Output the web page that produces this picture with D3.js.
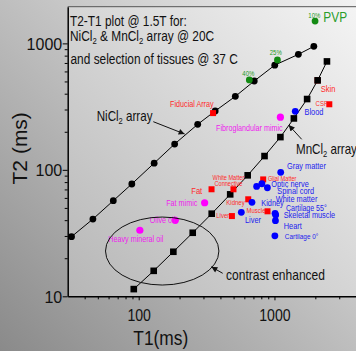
<!DOCTYPE html>
<html>
<head>
<meta charset="utf-8">
<script src="https://cdn.jsdelivr.net/npm/d3@7"></script>
<style>
  html, body { margin: 0; padding: 0; overflow: hidden; }
  svg { display: block; font-family: Arial, "Liberation Sans", sans-serif; }
</style>
</head>
<body>
<div id="chart"></div>
<script>
// NiCl2 array @ 20C (black circles)
const niT1 = [32, 46, 65, 89, 130, 184, 272, 366, 515, 710, 1005, 1500, 1950];
const niT2 = [29.6, 40.8, 57, 77.3, 113, 160, 229, 292, 381, 504, 673, 819, 947];
// MnCl2 array @ 20C (black squares)
const mnT1 = [92, 129, 180, 250, 345, 472, 635, 845, 1106, 1390, 1740, 2080, 2436];
const mnT2 = [11.4, 15.9, 22.5, 31.8, 45, 64, 90.5, 128.5, 181.5, 255, 363, 510, 720];
// PVP (green)
const pvpNames = ['40%', '25%', '10%'];
const pvpT1 = [653, 1052, 1991];
const pvpT2 = [514, 740, 1500];
// red squares
const redNames = ['Fiducial Array', 'CSF', 'Skin', 'Fat', 'White Matter|Connective', 'Glial Matter', 'Kidney', 'Liver', 'Muscle'];
const redT1 = [353, 2535, 2080, 344, 499, 826, 641, 486, 889];
const redT2 = [281, 330, 510, 70.2, 70.2, 84, 58.5, 43.1, 47];
// blue circles (tissues @ 37 C)
const blueNames = ['Blood', 'Gray matter', 'Optic nerve', 'Spinal cord', 'White matter', 'Kidney', 'Liver', 'Cartilage 55°', 'Skeletal muscle', 'Heart', 'Cartilage 0°'];
const blueT1 = [1423, 1112, 808, 739, 887, 683, 570, 1010, 1021, 1017, 1007];
const blueT2 = [290, 95.5, 77.6, 74, 72.2, 55.4, 46.1, 45.3, 44, 39.6, 30.1];
// magenta circles (mimics / oils)
const magNames = ['Fibroglandular mimic', 'Fat mimic', 'Olive oil', 'Heavy mineral oil'];
const magT1 = [1106, 306, 186, 102];
const magT2 = [261, 54.9, 39.9, 33.3];

const xTicks = [100, 1000];
const yTicks = [10, 100, 1000];

// label placement relative to each marker (px)
const redLayout = {
  'Fiducial Array': { dx: 0.5, dy: -6.5, a: 'end', fs: 9 },
  'CSF': { dx: -1.7, dy: 1.5, a: 'end', fs: 7.5 },
  'Skin': { dx: 3, dy: 11.3, a: 'start', fs: 9.5 },
  'Fat': { dx: -9.3, dy: 4.3, a: 'end', fs: 9.5 },
  'White Matter|Connective': { dx: -5, dy: -9.6, a: 'middle', fs: 7 },
  'Glial Matter': { dx: 4.7, dy: 1.4, a: 'start', fs: 7 },
  'Kidney': { dx: -3.6, dy: 6.1, a: 'end', fs: 7.5 },
  'Liver': { dx: -2.7, dy: 1.7, a: 'end', fs: 7.5 },
  'Muscle': { dx: -2, dy: 2.1, a: 'end', fs: 7.5 }
};
const blueLayout = {
  'Blood': { dx: 9.3, dy: 4 },
  'Gray matter': { dx: 6.3, dy: -3.3 },
  'Optic nerve': { dx: 9.3, dy: 3.4 },
  'Spinal cord': { dx: 20.6, dy: 7.3 },
  'White matter': { dx: 8.3, dy: 13.8 },
  'Kidney': { dx: 9.3, dy: 3.7 },
  'Liver': { dx: 3.7, dy: 10.7 },
  'Cartilage 55°': { dx: 11, dy: -2.8, fs: 8.8 },
  'Skeletal muscle': { dx: 8, dy: 3.5 },
  'Heart': { dx: 8.3, dy: 7.8 },
  'Cartilage 0°': { dx: 10, dy: 3.5, fs: 8 }
};
const magLayout = {
  'Fibroglandular mimic': { dx: 2.3, dy: 13.5, a: 'end' },
  'Fat mimic': { dx: -7.3, dy: 3.2, a: 'end' },
  'Olive oil': { dx: 0, dy: 2.9, a: 'end' },
  'Heavy mineral oil': { dx: -4, dy: 12, a: 'middle' }
};
const pvpLayout = { '40%': { dx: -1, dy: -4 }, '25%': { dx: -1.7, dy: -5 }, '10%': { dx: -0.7, dy: -3.3 } };

const W = 356, H = 351;
const L = 67.7, T = 6.7, B = 296.3, R = 356.2;

const svg = d3.select('#chart').append('svg').attr('width', W).attr('height', H);
const defs = svg.append('defs');
const bg = defs.append('linearGradient').attr('id', 'bg')
  .attr('x1', 1).attr('y1', 0).attr('x2', 0).attr('y2', 1);
bg.append('stop').attr('offset', 0).attr('stop-color', '#f2f2f2');
bg.append('stop').attr('offset', 1).attr('stop-color', '#8a8a8a');
const pg = defs.append('linearGradient').attr('id', 'pg')
  .attr('x1', 1).attr('y1', 0).attr('x2', 0).attr('y2', 1);
pg.append('stop').attr('offset', 0).attr('stop-color', '#f4f4f4');
pg.append('stop').attr('offset', 1).attr('stop-color', '#b6b6b6');
defs.append('marker').attr('id', 'arr')
  .attr('viewBox', '0 0 10 10').attr('refX', 10).attr('refY', 5)
  .attr('markerWidth', 7).attr('markerHeight', 6).attr('markerUnits', 'userSpaceOnUse')
  .attr('orient', 'auto')
  .append('path').attr('d', 'M0,0L10,5L0,10z').attr('fill', '#111');

svg.append('rect').attr('width', W).attr('height', H).attr('fill', 'url(#bg)');
svg.append('rect').attr('x', L).attr('y', T).attr('width', R - L).attr('height', B - T).attr('fill', 'url(#pg)');

const x = d3.scaleLog().domain([30, 4000]).range([L, R]);
const y = d3.scaleLog().domain([10, 1950]).range([B, T]);

// text helper, "_2" becomes a subscript
function label(g, px, py, s, o) {
  const t = g.append('text')
    .attr('transform', `translate(${px},${py}) scale(${o.sx || 0.8},1)`)
    .attr('text-anchor', o.a || 'start')
    .attr('font-size', o.fs)
    .attr('fill', o.fill || '#111');
  s.split(/_(\d)/).forEach((p, i) => {
    const sp = t.append('tspan').text(p);
    if (i % 2 === 1) sp.attr('font-size', o.fs * 0.65).attr('baseline-shift', '-30%');
  });
  return t;
}

// axes
const minorX = [40, 50, 60, 70, 80, 90, 200, 300, 400, 500, 600, 700, 800, 900, 2000, 3000];
const minorY = [20, 30, 40, 50, 60, 70, 80, 90, 200, 300, 400, 500, 600, 700, 800, 900];

svg.append('line').attr('x1', L).attr('x2', R).attr('y1', T).attr('y2', T)
  .attr('stroke', '#555').attr('stroke-width', 1);

const gx = svg.append('g').attr('transform', `translate(0,${B})`)
  .call(d3.axisBottom(x).tickValues(xTicks).tickFormat(d3.format('d')).tickSize(4).tickSizeOuter(0));
svg.append('g').attr('transform', `translate(0,${B})`)
  .call(d3.axisBottom(x).tickValues(minorX).tickFormat('').tickSize(3).tickSizeOuter(0))
  .select('.domain').remove();
const gy = svg.append('g').attr('transform', `translate(${L},0)`)
  .call(d3.axisLeft(y).tickValues(yTicks).tickFormat(d3.format('d')).tickSize(5).tickSizeOuter(0));
svg.append('g').attr('transform', `translate(${L},0)`)
  .call(d3.axisLeft(y).tickValues(minorY).tickFormat('').tickSize(3).tickSizeOuter(0))
  .select('.domain').remove();

svg.selectAll('.domain').attr('stroke', '#000').attr('stroke-width', 1.5);
svg.selectAll('.tick line').attr('stroke', '#000').attr('stroke-width', 1);
gx.selectAll('.tick text')
  .attr('font-size', 17).attr('font-family', 'Arial, "Liberation Sans", sans-serif')
  .attr('fill', '#111').attr('y', 0).attr('dy', 0)
  .attr('transform', 'translate(0,24.4) scale(0.83,1)');
gy.selectAll('.tick text')
  .attr('font-size', 16).attr('font-family', 'Arial, "Liberation Sans", sans-serif')
  .attr('fill', '#111').attr('x', -5.5).attr('dy', '0.36em');

label(svg, 160.8, 345, 'T1(ms)', { fs: 19.5, sx: 0.89, a: 'middle' });
svg.append('text').attr('transform', 'translate(26.7,148.3) rotate(-90)')
  .attr('text-anchor', 'middle').attr('font-size', 21).attr('fill', '#111').text('T2 (ms)');

// title
label(svg, 70, 26, 'T2-T1 plot @ 1.5T for:', { fs: 14.5, sx: 0.82 });
label(svg, 70, 41, ' NiCl_2 & MnCl_2 array @ 20C', { fs: 14.5, sx: 0.82 });
label(svg, 70.5, 64, 'and selection of tissues @ 37 C', { fs: 14.5, sx: 0.82 });

// series lines
const line = d3.line().x(d => x(d[0])).y(d => y(d[1]));
const ni = niT1.map((v, i) => [v, niT2[i]]);
const mn = mnT1.map((v, i) => [v, mnT2[i]]);
svg.append('path').datum(ni).attr('d', line).attr('fill', 'none').attr('stroke', '#000').attr('stroke-width', 1);
svg.append('path').datum(mn).attr('d', line).attr('fill', 'none').attr('stroke', '#000').attr('stroke-width', 1);

// skin marker lies under the MnCl2 square
const red = redNames.map((n, i) => ({ n, t1: redT1[i], t2: redT2[i] }));
svg.selectAll('.skin').data(red.filter(d => d.n === 'Skin')).enter().append('rect')
  .attr('x', d => x(d.t1) - 3).attr('y', d => y(d.t2) - 3).attr('width', 6).attr('height', 6).attr('fill', '#ff0000');

svg.selectAll('.ni').data(ni).enter().append('circle')
  .attr('cx', d => x(d[0])).attr('cy', d => y(d[1])).attr('r', 3.4).attr('fill', '#000');
svg.selectAll('.mn').data(mn).enter().append('rect')
  .attr('x', d => x(d[0]) - 3.3).attr('y', d => y(d[1]) - 3.3).attr('width', 6.6).attr('height', 6.6).attr('fill', '#000');

// PVP
pvpNames.forEach((n, i) => {
  const px = x(pvpT1[i]), py = y(pvpT2[i]);
  svg.append('circle').attr('cx', px).attr('cy', py).attr('r', 3.4).attr('fill', '#138a13');
  const o = pvpLayout[n];
  label(svg, px + o.dx, py + o.dy, n, { fs: 7.5, a: 'middle', fill: '#1f9a1f' });
});
label(svg, x(pvpT1[2]) + 8.3, y(pvpT2[2]) + 0.7, 'PVP', { fs: 15, sx: 0.79, fill: '#2a9d2a' });

// red squares
red.forEach(d => {
  const px = x(d.t1), py = y(d.t2), o = redLayout[d.n];
  if (d.n !== 'Skin') {
    svg.append('rect').attr('x', px - 3).attr('y', py - 3).attr('width', 6).attr('height', 6).attr('fill', '#ff0000');
  }
  d.n.split('|').forEach((s, k) => {
    label(svg, px + o.dx, py + o.dy + k * 6.7, s, { fs: o.fs, a: o.a, fill: '#ff2a2a' });
  });
});

// blue circles
blueNames.forEach((n, i) => {
  const px = x(blueT1[i]), py = y(blueT2[i]), o = blueLayout[n];
  svg.append('circle').attr('cx', px).attr('cy', py).attr('r', 3.4).attr('fill', '#0000ff');
  label(svg, px + o.dx, py + o.dy, n, { fs: o.fs || 9.2, fill: '#2222ee' });
});

// magenta circles
magNames.forEach((n, i) => {
  const px = x(magT1[i]), py = y(magT2[i]), o = magLayout[n];
  svg.append('circle').attr('cx', px).attr('cy', py).attr('r', 3.6).attr('fill', '#ff00ff');
  label(svg, px + o.dx, py + o.dy, n, { fs: 9, a: o.a, fill: '#ee22ee' });
});

// annotations
svg.append('ellipse').attr('cx', x(149)).attr('cy', y(22.8)).attr('rx', 56.7).attr('ry', 34)
  .attr('fill', 'none').attr('stroke', '#111').attr('stroke-width', 1);
label(svg, 96.7, 120.5, 'NiCl_2 array', { fs: 14.5, sx: 0.8 });
label(svg, 296, 154, 'MnCl_2 array', { fs: 14.5, sx: 0.8 });
label(svg, 226, 280, 'contrast enhanced', { fs: 14, sx: 0.86 });
const arrows = [
  { from: [153.3, 121.7], t1: 218, t2: 192 },
  { from: [301.7, 139.3], t1: 1273, t2: 226 },
  { from: [222.7, 273.3], t1: 343, t2: 17.1 }
];
arrows.forEach(a => {
  svg.append('line').attr('x1', a.from[0]).attr('y1', a.from[1])
    .attr('x2', x(a.t1)).attr('y2', y(a.t2))
    .attr('stroke', '#111').attr('stroke-width', 1).attr('marker-end', 'url(#arr)');
});
</script>
</body>
</html>
